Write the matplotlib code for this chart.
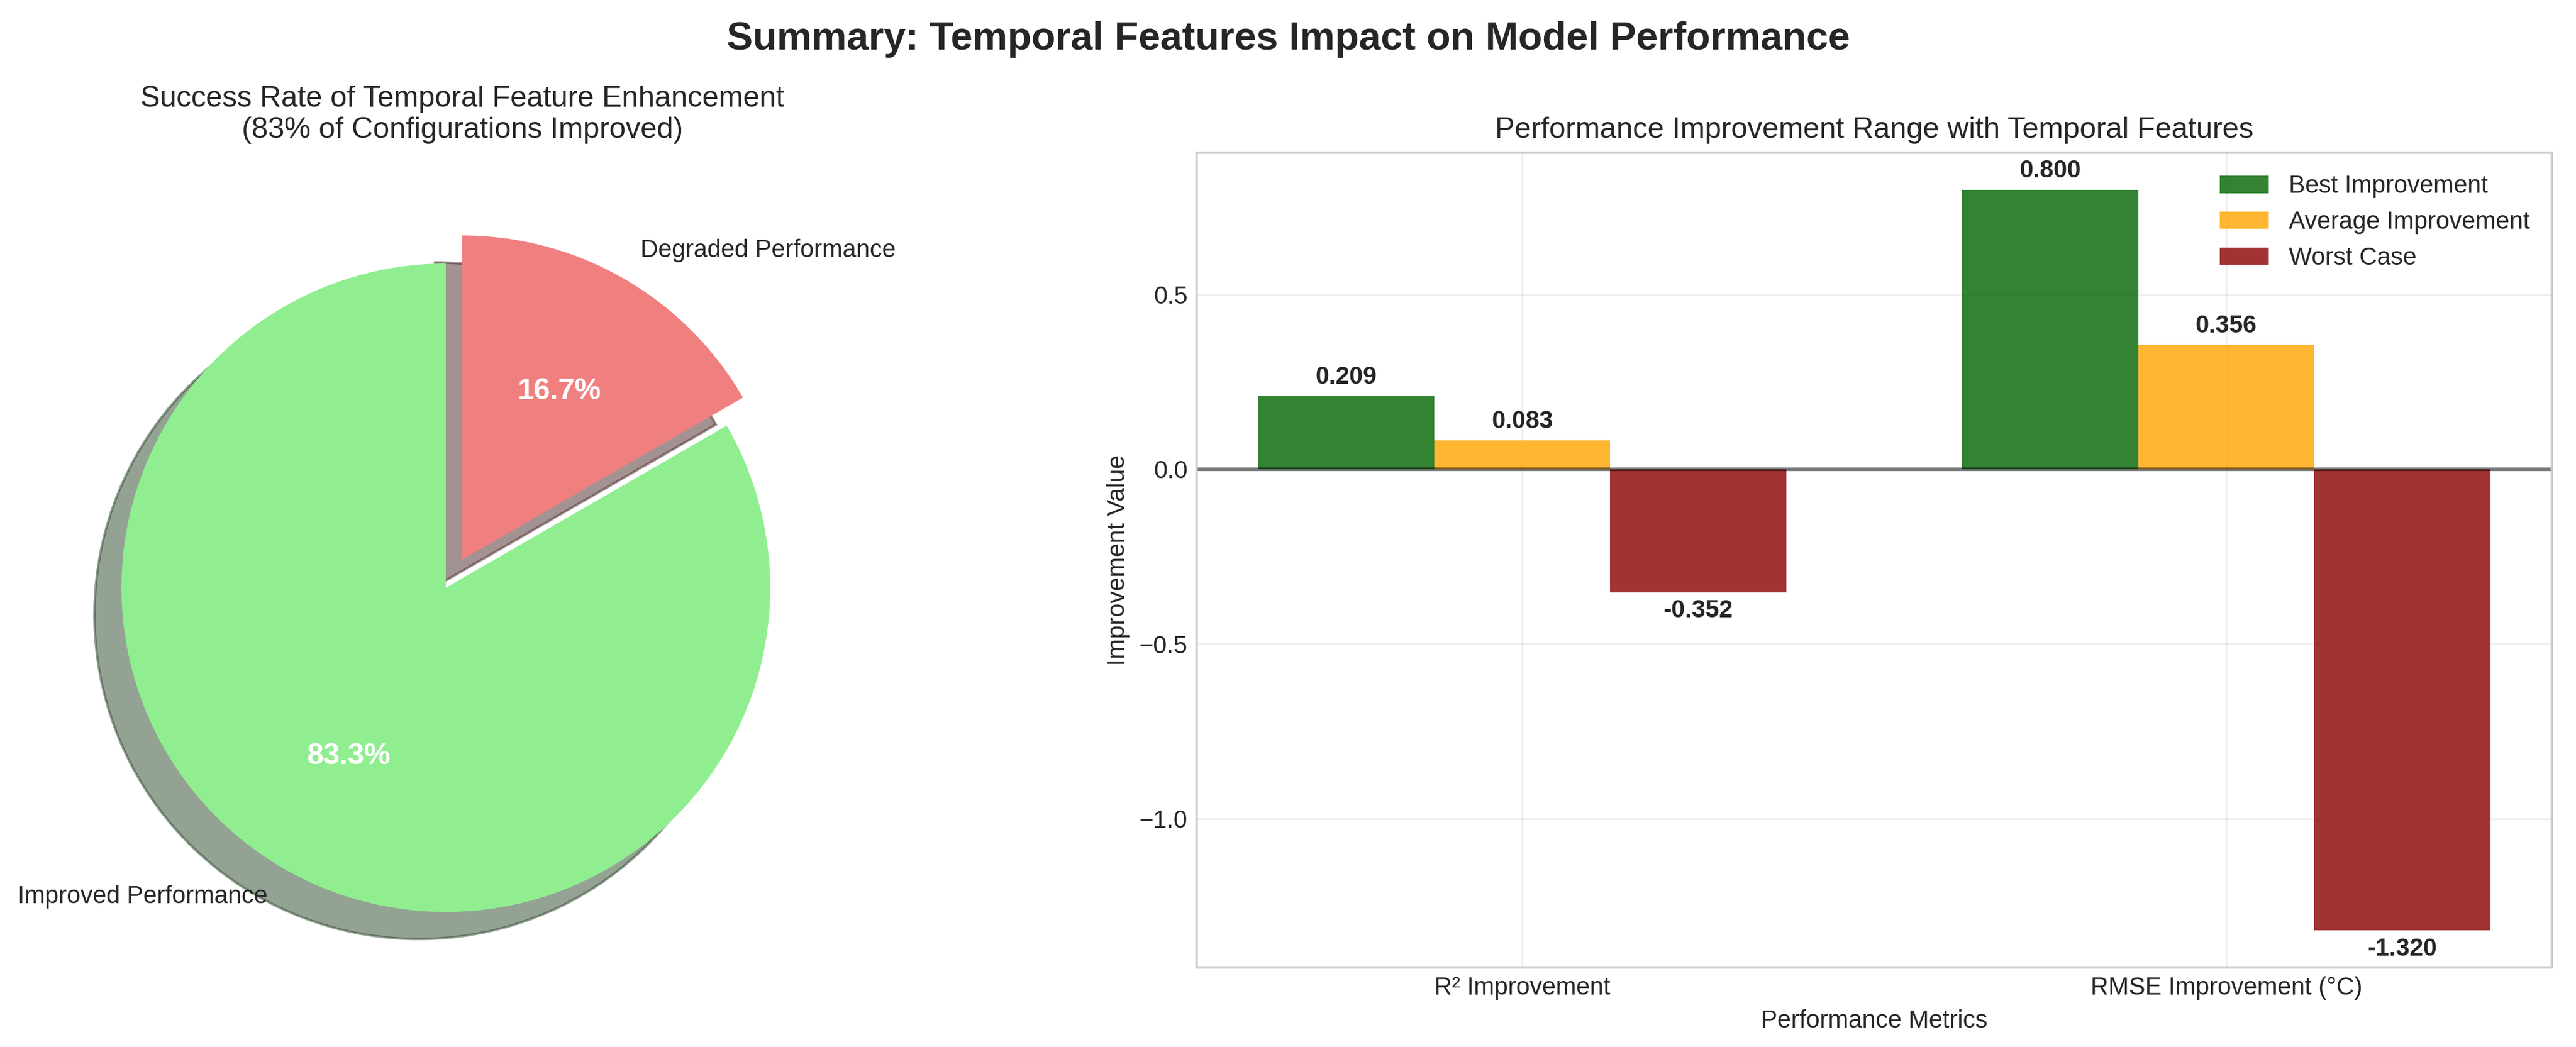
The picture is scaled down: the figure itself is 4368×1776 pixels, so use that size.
import matplotlib
matplotlib.use("Agg")
import matplotlib.pyplot as plt
import numpy as np

plt.style.use('seaborn-v0_8-whitegrid')
plt.rcParams['font.family'] = ['Liberation Sans', 'DejaVu Sans']

# pie data
pie_labels = ['Improved Performance', 'Degraded Performance']
pie_counts = [5, 1]
pie_colors = ['lightgreen', 'lightcoral']

# bar data
metrics = ['R² Improvement', 'RMSE Improvement (°C)']
best_vals = [0.209, 0.800]
avg_vals = [0.083, 0.356]
worst_vals = [-0.352, -1.320]
series_names = ['Best Improvement', 'Average Improvement', 'Worst Case']
series_colors = ['darkgreen', 'orange', 'darkred']

W, H = 4368, 1776
fig = plt.figure(figsize=(W / 300, H / 300), dpi=300)

# axes boxes (pixels of the full picture)
top, bottom = 259, 1641
ax1 = fig.add_axes([34 / W, 1 - bottom / H, 1500 / W, (bottom - top) / H])
ax2 = fig.add_axes([2029 / W, 1 - bottom / H, (4327 - 2029) / W, (bottom - top) / H])

#pie
wedges, texts, autotexts = ax1.pie(pie_counts, labels=pie_labels, colors=pie_colors,
                                   autopct='%1.1f%%', startangle=90,
                                   explode=(0, 0.1), shadow=True,
                                   textprops={'fontsize': 10})
for t in autotexts:
    t.set_color('white')
    t.set_fontweight('bold')
    t.set_fontsize(12)
ax1.set_aspect('auto')
r_px, cx, cy = 550, 756, 997
ax1.set_xlim((34 - cx) / r_px, (1534 - cx) / r_px)
ax1.set_ylim((cy - bottom) / r_px, (cy - top) / r_px)
ax1.set_title('Success Rate of Temporal Feature Enhancement\n(83% of Configurations Improved)',
              fontsize=12)

#bars
x = np.arange(len(metrics))
width = 0.25
for i, (vals, name, col) in enumerate(zip([best_vals, avg_vals, worst_vals],
                                          series_names, series_colors)):
    bars = ax2.bar(x + (i - 1) * width, vals, width, label=name, color=col, alpha=0.8)
    for b, v in zip(bars, vals):
        if v >= 0:
            ax2.text(b.get_x() + b.get_width() / 2, v + 0.02, f'{v:.3f}',
                     ha='center', va='bottom', fontsize=10, fontweight='bold')
        else:
            ax2.text(b.get_x() + b.get_width() / 2, v - 0.02, f'{v:.3f}',
                     ha='center', va='top', fontsize=10, fontweight='bold')

ax2.axhline(y=0, color='black', alpha=0.5, linewidth=1.5)
ax2.set_xticks(x)
ax2.set_xticklabels(metrics, fontsize=10)
ax2.tick_params(axis='y', labelsize=10)
ax2.set_xlabel('Performance Metrics', fontsize=10)
ax2.set_ylabel('Improvement Value', fontsize=10)
ax2.set_title('Performance Improvement Range with Temporal Features', fontsize=12)
ax2.legend(loc='upper right', fontsize=10)
ax2.grid(True, alpha=0.3)

fig.suptitle('Summary: Temporal Features Impact on Model Performance',
             fontsize=16, fontweight='bold', y=0.98)

fig.savefig('out.png', dpi=300)
